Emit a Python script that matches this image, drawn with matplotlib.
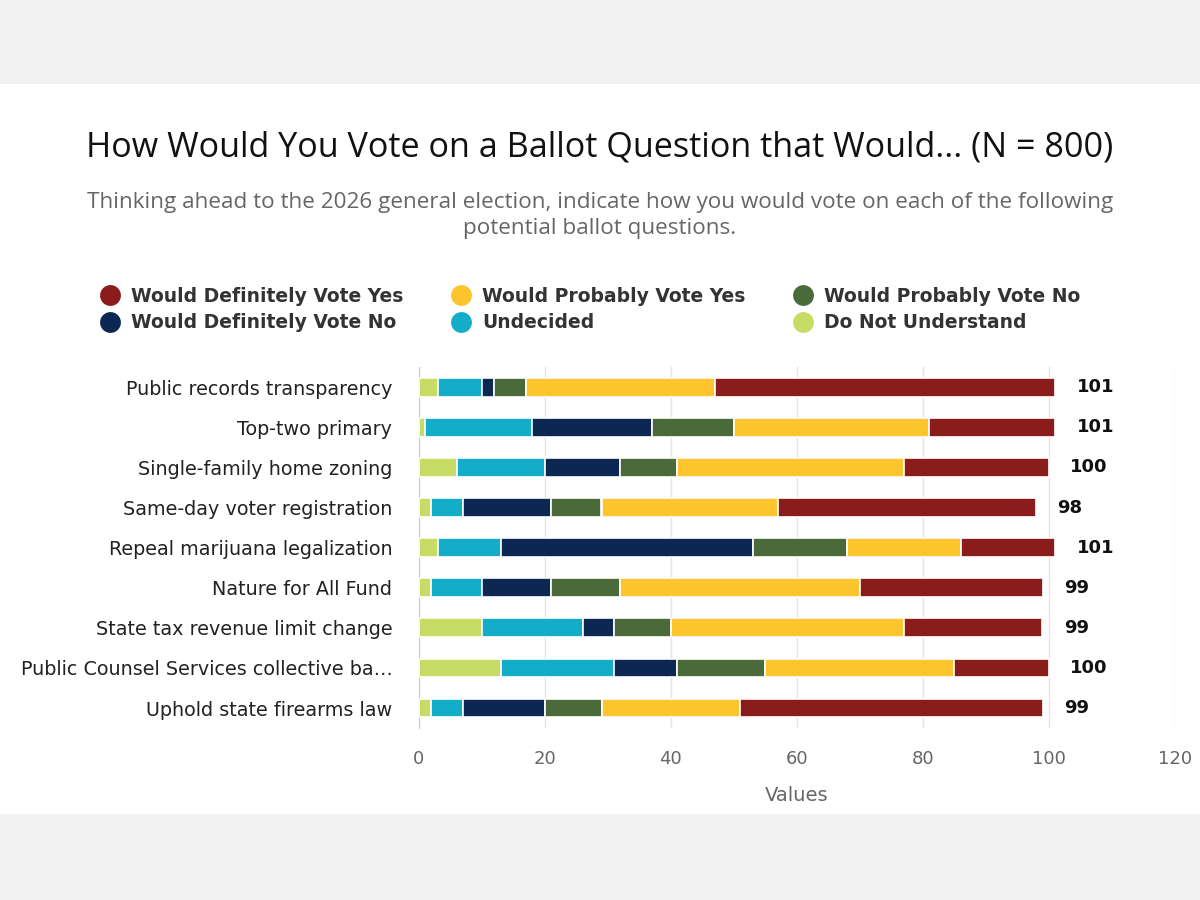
import matplotlib.pyplot as plt
from matplotlib.patches import Rectangle
from matplotlib.lines import Line2D
import numpy as np

# Ballot questions, top to bottom
questions = ['Public records transparency',
             'Top-two primary',
             'Single-family home zoning',
             'Same-day voter registration',
             'Repeal marijuana legalization',
             'Nature for All Fund',
             'State tax revenue limit change',
             'Public Counsel Services collective ba\u2026',
             'Uphold state firearms law']

# Responses (stacked left to right)
do_not_understand = [3, 1, 6, 2, 3, 2, 10, 13, 2]
undecided = [7, 17, 14, 5, 10, 8, 16, 18, 5]
def_no = [2, 19, 12, 14, 40, 11, 5, 10, 13]
prob_no = [5, 13, 9, 8, 15, 11, 9, 14, 9]
prob_yes = [30, 31, 36, 28, 18, 38, 37, 30, 22]
def_yes = [54, 20, 23, 41, 15, 29, 22, 15, 48]

series = [('Do Not Understand', do_not_understand, '#c6dc64'),
          ('Undecided', undecided, '#14adc9'),
          ('Would Definitely Vote No', def_no, '#0b2752'),
          ('Would Probably Vote No', prob_no, '#4a6b39'),
          ('Would Probably Vote Yes', prob_yes, '#fec42d'),
          ('Would Definitely Vote Yes', def_yes, '#8a1c1c')]

plt.rcParams['font.family'] = ['DejaVu Sans']

fig = plt.figure(figsize=(12, 9), dpi=100)
fig.patch.set_facecolor('#f2f2f2')
fig.patches.append(Rectangle((0, 0.0956), 1, 0.8111, transform=fig.transFigure,
                             facecolor='white', edgecolor='none', zorder=-10))

ax = fig.add_axes([0.349, 0.191, 0.63, 0.401])
y = np.arange(len(questions))
left = np.zeros(len(questions))
for name, vals, col in series:
    ax.barh(y, vals, left=left, height=0.47, color=col, edgecolor='white', linewidth=1.2, zorder=3)
    left += np.array(vals)

for i, total in enumerate(left):
    ax.text(total + 3.4, i, f'{int(total)}', va='center', ha='left', fontsize=13,
            fontweight='bold', color='#111111')

ax.set_ylim(len(questions) - 0.5, -0.5)
ax.set_xlim(0, 120)
ax.set_xticks(range(0, 121, 20))
ax.set_yticks(y)
ax.set_yticklabels(questions, fontsize=13.8, color='#222222')
ax.tick_params(axis='y', length=0, pad=19)
ax.tick_params(axis='x', length=0, pad=16, labelsize=13, labelcolor='#666666')
ax.grid(axis='x', color='#e3e3e3', linewidth=1, zorder=0)
for s in ['top', 'right', 'bottom']:
    ax.spines[s].set_visible(False)
ax.spines['left'].set_color('#cccccc')
ax.set_xlabel('Values', fontsize=14, color='#666666', labelpad=13)

fig.text(0.5, 0.836, 'How Would You Vote on a Ballot Question that Would... (N = 800)',
         ha='center', va='center', fontsize=24.6, color='#111111', family='Open Sans')
fig.text(0.5, 0.761, 'Thinking ahead to the 2026 general election, indicate how you would vote on each of the following\npotential ballot questions.',
         ha='center', va='center', fontsize=16.2, color='#666666', family='Open Sans', linespacing=1.32)

# legend: column-major fill gives the reference layout
order = [5, 2, 4, 1, 3, 0]
handles = [Line2D([], [], marker='o', linestyle='none', markersize=15,
                  markerfacecolor=series[k][2], markeredgecolor='none') for k in order]
labels = [series[k][0] for k in order]
leg = fig.legend(handles, labels, ncol=3, loc='center', bbox_to_anchor=(0.492, 0.656),
                 frameon=False, fontsize=13.5, handletextpad=0.6, columnspacing=2.6,
                 labelspacing=0.4, handlelength=1.0)
for t in leg.get_texts():
    t.set_fontweight('semibold')
    t.set_color('#333333')

fig.savefig('out.png', dpi=100, facecolor=fig.get_facecolor())
